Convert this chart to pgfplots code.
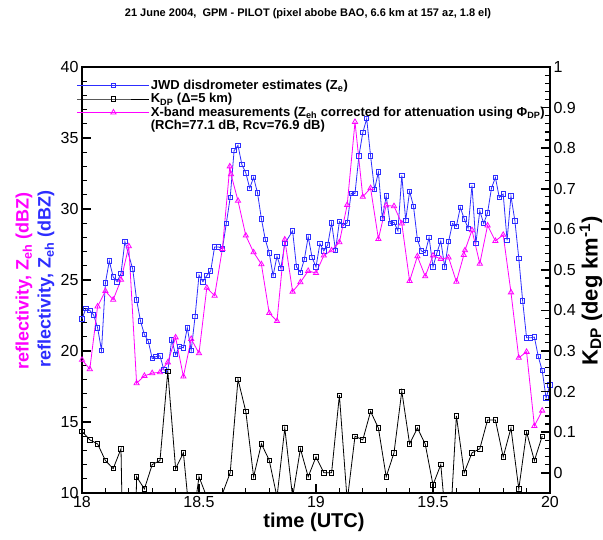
\documentclass[border=0pt]{standalone}
\usepackage{fontspec}
\setmainfont{Liberation Sans}
\usepackage{pgfplots}
\pgfplotsset{compat=1.18}
\usepackage{pgfplotstable}

\definecolor{zblue}{RGB}{45,45,255}
\definecolor{zmag}{RGB}{255,0,255}

% JWD disdrometer (minutes after 18 UTC, dBZ)
\pgfplotstableread{
m v
0 22.25
1 23.00
2 22.86
3 22.53
4 21.64
5 20.04
6 24.79
7 26.34
8 25.21
9 24.88
10 25.45
11 27.71
13 25.78
14 23.61
15 22.11
16 21.16
17 20.69
18 19.47
19 19.61
20 19.66
21 18.67
22 18.58
23 20.79
24 19.75
25 20.32
26 20.22
27 21.64
28 20.04
29 22.44
30 25.35
31 24.88
32 25.31
33 25.64
34 27.33
35 27.33
36 27.19
37 28.98
38 30.81
39 34.11
40 34.48
41 33.12
42 32.55
43 31.47
44 32.22
45 31.14
46 29.31
47 27.85
48 26.91
49 25.31
50 26.67
51 25.82
52 27.56
54 28.46
55 25.92
56 25.54
57 26.44
58 28.04
59 26.58
60 25.92
61 27.56
62 27.05
63 27.47
64 29.02
65 27.09
66 29.12
67 28.84
68 29.02
69 31.09
70 31.09
71 33.73
72 35.38
73 36.36
74 33.73
75 31.38
76 32.60
77 29.35
78 30.91
79 28.98
80 29.07
81 28.46
82 32.36
83 29.21
84 31.24
85 30.20
86 27.85
87 27.05
88 26.91
89 27.99
90 25.92
91 26.91
92 27.75
93 25.92
94 27.71
95 28.98
96 28.79
97 30.11
98 29.31
99 28.65
100 31.66
101 27.56
102 29.87
103 28.98
104 29.73
105 31.47
106 32.22
107 30.81
108 31.05
109 27.80
110 30.91
111 29.16
112 26.53
113 23.52
114 20.93
115 20.93
116 20.98
117 19.61
118 18.62
119 16.70
120 17.60
}\bluedata

% X-band corrected Zeh
\pgfplotstableread{
m v
0 19.38
2 18.72
4 23.14
6 24.22
8 23.61
10 25.02
12 27.38
14 17.73
16 18.25
18 18.44
20 18.50
22 19.20
24 20.96
26 18.20
28 20.85
30 19.84
32 24.45
34 23.89
36 27.19
37.9 33.00
38.2 32.45
40 30.58
42 28.13
44 26.95
46 26.11
48 22.67
50 22.11
52 27.85
54 24.18
56 24.84
58 25.64
60 25.49
62 26.72
64 27.09
66 27.66
68 30.29
70 36.13
72 30.86
74 31.47
76 27.89
78 30.25
80 30.20
82 28.98
84 24.93
86 26.67
88 25.26
90 26.72
92 26.48
94 26.58
96 24.88
97.9 26.76
98.2 27.09
100 28.51
102 26.15
104 28.84
106 27.75
108 28.18
110 24.13
112 19.52
114 19.94
116 14.72
118 15.80
}\xbanddata

% KDP (deg/km)
\pgfplotstableread{
m k
0 0.102
2 0.081
4 0.071
6 0.030
8 0.010
10 0.059
12 -1.0
14 -0.010
16 -0.040
18 0.020
20 0.030
22 0.250
24 0.010
26 0.049
28 -0.15
30 -0.010
32 -0.06
34 -0.08
36 -0.052
38 0.000
40 0.230
42 0.151
44 -0.010
46 0.071
48 0.031
50 -0.06
52 0.110
54 -0.06
56 0.059
58 -0.010
60 0.039
62 0.000
64 0.000
66 0.191
68 -0.07
70 0.090
72 0.081
74 0.151
76 0.110
78 -0.010
80 0.049
82 0.201
84 0.071
86 0.110
88 0.071
90 -0.030
92 0.020
94 -0.2
96 0.140
98 0.000
100 0.049
102 0.059
104 0.130
106 0.130
108 0.039
110 0.110
112 -0.040
114 0.100
116 0.030
118 0.090
}\kdpdata

\begin{document}
\begin{tikzpicture}
\begin{axis}[
  scale only axis, width=468pt, height=426pt,
  xmin=18, xmax=20, ymin=10, ymax=40,
  xtick={18,18.5,19,19.5,20}, minor x tick num=4,
  ytick={10,15,20,25,30,35,40}, minor y tick num=4,
  xtick pos=bottom, ytick pos=left,
  tick align=inside,
  major tick length=9pt, minor tick length=5pt,
  major tick style={black, line width=1.6pt},
  minor tick style={black, line width=1.2pt},
  axis line style={line width=2.4pt},
  /pgf/number format/assume math mode=true,
  tick label style={font=\fontsize{16}{18}\selectfont},
  legend cell align=left,
  legend image code/.code={\draw[mark repeat=2,mark phase=2,#1] plot coordinates {(0pt,0pt) (36pt,0pt) (72pt,0pt)};},
  legend style={at={(rel axis cs:-0.011,0.972)}, anchor=north west, draw=none, fill=none,
    inner sep=0pt, row sep=0.5pt,
    font=\bfseries\fontsize{13}{14}\selectfont,
    nodes={inner sep=1pt}},
]
\addplot[zblue, line width=0.8pt, mark=square, mark size=2.2pt, mark options={solid, fill=white}]
  table[x expr=18+\thisrow{m}/60, y=v] {\bluedata};
\addlegendentry{JWD disdrometer estimates (Z\textsubscript{e})}
\addlegendimage{black, line width=0.8pt, mark=square, mark size=2.2pt, mark options={solid, fill=white}}
\addlegendentry{K\textsubscript{DP} (Δ=5 km)}
\addplot[zmag, line width=0.8pt, mark=triangle, mark size=3pt, mark options={solid, fill=white}]
  table[x expr=18+\thisrow{m}/60, y=v] {\xbanddata};
\addlegendentry{X-band measurements (Z\textsubscript{eh} corrected for attenuation using Φ\textsubscript{DP})}
\addlegendimage{empty legend}
\addlegendentry{(RCh=77.1 dB, Rcv=76.9 dB)}
\end{axis}

\begin{axis}[
  scale only axis, width=468pt, height=426pt,
  xmin=18, xmax=20, ymin=-0.05, ymax=1,
  axis x line=none, axis y line*=right,
  ytick={0,0.1,0.2,0.3,0.4,0.5,0.6,0.7,0.8,0.9,1}, minor y tick num=4,
  tick align=inside,
  major tick length=9pt, minor tick length=5pt,
  major tick style={black, line width=1.6pt},
  minor tick style={black, line width=1.2pt},
  axis line style={line width=2.4pt},
  /pgf/number format/assume math mode=true,
  yticklabel style={font=\fontsize{16}{18}\selectfont, /pgf/number format/fixed, /pgf/number format/precision=1},
]
\addplot[black, line width=0.8pt, mark=square, mark size=2.2pt, mark options={solid, fill=white}]
  table[x expr=18+\thisrow{m}/60, y=k] {\kdpdata};
\end{axis}

\node[font=\bfseries\fontsize{11}{13}\selectfont] at (226pt,479pt) {21 June 2004,\ \ GPM - PILOT (pixel abobe BAO, 6.6 km at 157 az, 1.8 el)};
\node[font=\bfseries\fontsize{20}{22}\selectfont] at (232pt,-29pt) {time (UTC)};
\node[rotate=90, text=zmag, font=\bfseries\fontsize{18}{20}\selectfont] at (-58pt,212pt) {reflectivity, Z\textsubscript{eh} (dBZ)};
\node[rotate=90, text=zblue, font=\bfseries\fontsize{18}{20}\selectfont] at (-36pt,214pt) {reflectivity, Z\textsubscript{eh} (dBZ)};
\node[rotate=90, font=\bfseries\fontsize{22}{24}\selectfont] at (509pt,202pt) {K\textsubscript{DP} (deg km\textsuperscript{-1})};
\pgfresetboundingbox
\path (-82pt,-46pt) rectangle (521pt,493pt);
\end{tikzpicture}
\end{document}
